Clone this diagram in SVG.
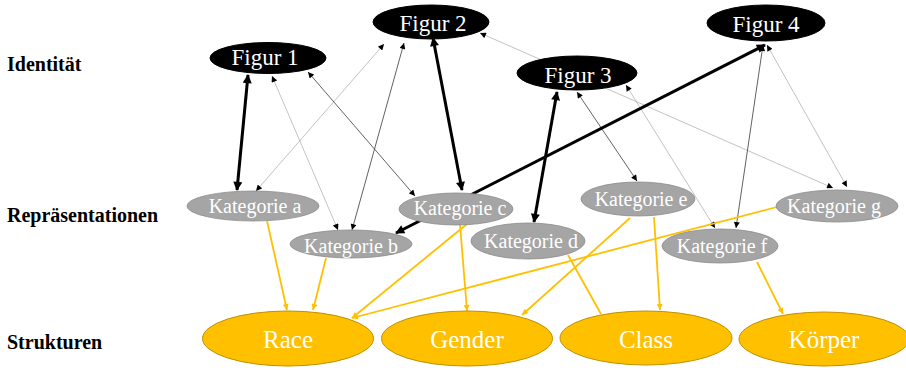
<svg xmlns="http://www.w3.org/2000/svg" width="906" height="368" viewBox="0 0 906 368">
<style>
.lbl{font-family:"Liberation Serif","Times New Roman",serif;font-weight:bold;font-size:20px;fill:#000}
.fig ellipse{fill:#000;stroke:#000}
.fig text{font-family:"Liberation Serif","Times New Roman",serif;font-size:23px;fill:#fff;text-anchor:middle}
.kat ellipse{fill:#a5a5a5;stroke:#8c8c8c;stroke-width:0.8}
.kat text{font-family:"Liberation Serif","Times New Roman",serif;font-size:20px;fill:#fff;text-anchor:middle}
.str ellipse{fill:#ffc000;stroke:#bf9000;stroke-width:1}
.str text{font-family:"Liberation Serif","Times New Roman",serif;font-size:25px;fill:#fff;text-anchor:middle}
.thick{stroke:#000;stroke-width:3;fill:none;marker-start:url(#ak);marker-end:url(#ak)}
.dark{stroke:#3a3a3a;stroke-width:0.8;fill:none;marker-start:url(#at);marker-end:url(#at)}
.light{stroke:#a8a8a8;stroke-width:0.7;fill:none;marker-start:url(#at);marker-end:url(#at)}
.or{stroke:#ffc000;stroke-width:1.8;fill:none;marker-end:url(#ao)}
.or0{stroke:#ffc000;stroke-width:1.8;fill:none}
</style>
<defs>
<marker id="ak" viewBox="0 0 10 10" refX="9" refY="5" markerUnits="userSpaceOnUse" markerWidth="11" markerHeight="9" orient="auto-start-reverse"><path d="M0,0 L10,5 L0,10 z" fill="#000"/></marker>
<marker id="at" viewBox="0 0 10 10" refX="10" refY="5" markerUnits="userSpaceOnUse" markerWidth="7" markerHeight="6" orient="auto-start-reverse"><path d="M0,0 L10,5 L0,10 z" fill="#000"/></marker>
<marker id="ao" viewBox="0 0 10 10" refX="10" refY="5" markerUnits="userSpaceOnUse" markerWidth="8" markerHeight="6" orient="auto"><path d="M0,0 L10,5 L0,10 z" fill="#ffc000"/></marker>
</defs>
<rect width="906" height="368" fill="#fff"/>
<text class="lbl" x="7" y="71">Identität</text>
<text class="lbl" x="7" y="222">Repräsentationen</text>
<text class="lbl" x="7" y="349">Strukturen</text>
<g id="connectors">
<line class="light" x1="272" y1="76" x2="338" y2="230"/>
<line class="light" x1="384" y1="44" x2="256" y2="191"/>
<line class="light" x1="480" y1="33" x2="833" y2="188"/>
<line class="light" x1="626" y1="85" x2="715" y2="228"/>
<line class="light" x1="767" y1="45" x2="847" y2="187"/>
<line class="dark" x1="308" y1="72" x2="415" y2="196"/>
<line class="dark" x1="404" y1="43" x2="352" y2="230"/>
<line class="dark" x1="577" y1="92" x2="637" y2="181"/>
<line class="dark" x1="763" y1="45" x2="736" y2="228"/>
<line class="thick" x1="248" y1="75" x2="237" y2="190"/>
<line class="thick" x1="433" y1="38" x2="462" y2="190"/>
<line class="thick" x1="557" y1="92" x2="534" y2="222"/>
<line class="thick" x1="765" y1="45" x2="396" y2="233"/>
<line class="or" x1="267" y1="221" x2="287" y2="310"/>
<line class="or" x1="326" y1="258" x2="313" y2="310"/>
<line class="or" x1="467" y1="224" x2="352" y2="318"/>
<line class="or" x1="460" y1="224" x2="467" y2="311"/>
<line class="or" x1="777" y1="207" x2="352" y2="318"/>
<line class="or" x1="630" y1="218" x2="522" y2="315"/>
<line class="or" x1="654" y1="217" x2="660" y2="310"/>
<line class="or0" x1="568" y1="255" x2="601" y2="314"/>
<line class="or" x1="757" y1="262" x2="783" y2="314"/>
</g>
<g id="figur1" class="fig"><ellipse cx="268" cy="58" rx="58" ry="15.5"/><text x="265" y="65">Figur 1</text></g>
<g id="figur2" class="fig"><ellipse cx="431" cy="22" rx="58" ry="17"/><text x="433" y="31">Figur 2</text></g>
<g id="figur3" class="fig"><ellipse cx="577" cy="73" rx="60" ry="17"/><text x="578" y="83">Figur 3</text></g>
<g id="figur4" class="fig"><ellipse cx="766" cy="23" rx="59" ry="18"/><text x="766" y="32">Figur 4</text></g>
<g id="kat-a" class="kat"><ellipse cx="253" cy="206" rx="66" ry="15"/><text x="255" y="213">Kategorie a</text></g>
<g id="kat-b" class="kat"><ellipse cx="351" cy="244" rx="61" ry="14"/><text x="351" y="253">Kategorie b</text></g>
<g id="kat-c" class="kat"><ellipse cx="456" cy="209" rx="57" ry="16"/><text x="460" y="215">Kategorie c</text></g>
<g id="kat-d" class="kat"><ellipse cx="528" cy="241" rx="57" ry="18"/><text x="531" y="248">Kategorie d</text></g>
<g id="kat-e" class="kat"><ellipse cx="638" cy="199" rx="57" ry="17"/><text x="641" y="206">Kategorie e</text></g>
<g id="kat-f" class="kat"><ellipse cx="720" cy="246" rx="58" ry="17"/><text x="722" y="253">Kategorie f</text></g>
<g id="kat-g" class="kat"><ellipse cx="837" cy="206" rx="61" ry="16"/><text x="834" y="213">Kategorie g</text></g>
<g id="race" class="str"><ellipse cx="288" cy="338.5" rx="85.5" ry="27.5"/><text x="288" y="348">Race</text></g>
<g id="gender" class="str"><ellipse cx="467" cy="338.5" rx="85.5" ry="27.5"/><text x="467" y="348">Gender</text></g>
<g id="class" class="str"><ellipse cx="646" cy="338" rx="86" ry="27"/><text x="646" y="348">Class</text></g>
<g id="koerper" class="str"><ellipse cx="824" cy="339" rx="85" ry="27"/><text x="824" y="348">Körper</text></g>
</svg>
